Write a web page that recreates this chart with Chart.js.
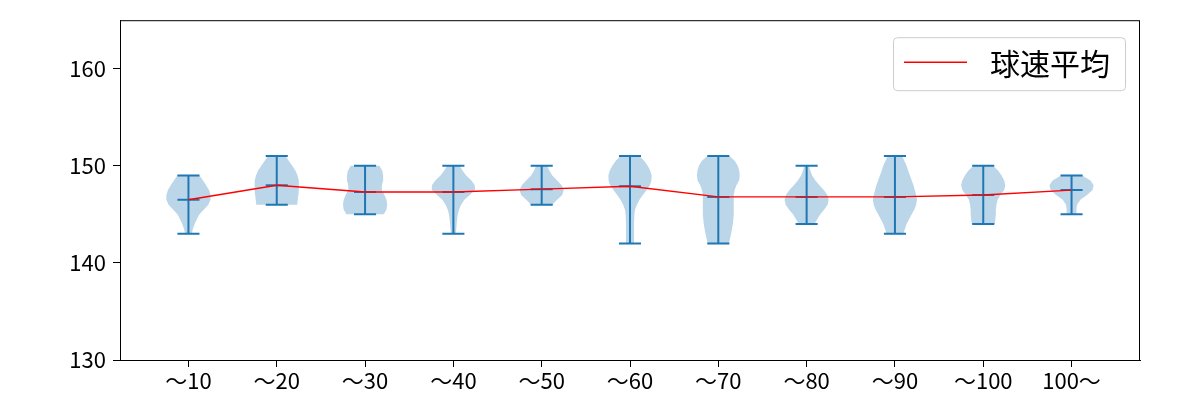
<!DOCTYPE html>
<html>
<head>
<meta charset="utf-8">
<script src="https://cdn.jsdelivr.net/npm/chart.js@4.4.1/dist/chart.umd.min.js"></script>
<style>
html,body{margin:0;padding:0;background:#fff;}
#wrap{width:1200px;height:400px;position:relative;}
</style>
</head>
<body>
<div id="wrap"><canvas id="c" width="1200" height="400"></canvas></div>
<script>
// ---- data ----
const categories = ['～10','～20','～30','～40','～50','～60','～70','～80','～90','～100','100～'];
const meanSpeed = [146.5, 148.0, 147.3, 147.3, 147.6, 147.9, 146.8, 146.8, 146.8, 147.0, 147.5];
const maxSpeed  = [149, 151, 150, 150, 150, 151, 151, 150, 151, 150, 149];
const minSpeed  = [143, 146, 145, 143, 146, 142, 142, 144, 143, 144, 145];
const yTicks = [130, 140, 150, 160];
const legendLabel = '球速平均';

// violin outlines: [speed, relative half-width]
const violin1  = [[149,0.5],[148.5,0.66],[148,0.8],[147.5,0.93],[147,1.0],[146.5,1.0],[146,0.9],[145.5,0.7],[145,0.5],[144.5,0.38],[144,0.28],[143.5,0.2],[143,0.15]];
const violin2  = [[151,0.4],[150.5,0.55],[150,0.7],[149.5,0.85],[149,0.94],[148.5,1.0],[148,1.0],[147.5,1.0],[147,0.98],[146.5,0.95],[146,0.93]];
const violin3  = [[150,0.65],[149.5,0.78],[149,0.82],[148.5,0.82],[148,0.76],[147.5,0.76],[147,0.88],[146.5,0.97],[146,1.0],[145.5,0.97],[145,0.85]];
const violin4  = [[150,0.28],[149.5,0.42],[149,0.58],[148.5,0.82],[148,0.97],[147.5,0.98],[147,0.74],[146.5,0.5],[146,0.35],[145.5,0.26],[145,0.2],[144.5,0.17],[144,0.15],[143.5,0.13],[143,0.12]];
const violin5  = [[150,0.25],[149.5,0.35],[149,0.48],[148.5,0.7],[148,0.9],[147.5,1.0],[147,0.93],[146.5,0.7],[146,0.48]];
const violin6  = [[151,0.43],[150.5,0.65],[150,0.8],[149.5,0.92],[149,0.98],[148.5,0.97],[148,0.9],[147.5,0.75],[147,0.58],[146.5,0.43],[146,0.31],[145.5,0.23],[145,0.2],[144.5,0.19],[144,0.18],[143.5,0.18],[143,0.18],[142.5,0.18],[142,0.18]];
const violin7  = [[151,0.5],[150.5,0.75],[150,0.88],[149.5,0.95],[149,0.97],[148.5,0.94],[148,0.82],[147.5,0.74],[147,0.7],[146.5,0.7],[146,0.7],[145.5,0.7],[145,0.7],[144.5,0.68],[144,0.66],[143.5,0.62],[143,0.58],[142.5,0.53],[142,0.48]];
const violin8  = [[150,0.1],[149.5,0.17],[149,0.25],[148.5,0.4],[148,0.58],[147.5,0.78],[147,0.94],[146.5,1.0],[146,0.95],[145.5,0.8],[145,0.62],[144.5,0.48],[144,0.35]];
const violin9  = [[151,0.33],[150.5,0.43],[150,0.53],[149.5,0.6],[149,0.68],[148.5,0.76],[148,0.84],[147.5,0.9],[147,0.96],[146.5,1.0],[146,0.96],[145.5,0.88],[145,0.76],[144.5,0.64],[144,0.53],[143.5,0.45],[143,0.38]];
const violin10 = [[150,0.45],[149.5,0.68],[149,0.83],[148.5,0.95],[148,1.0],[147.5,0.95],[147,0.78],[146.5,0.65],[146,0.6],[145.5,0.57],[145,0.57],[144.5,0.55],[144,0.52]];
const violin11 = [[149,0.48],[148.5,0.86],[148,1.0],[147.5,0.95],[147,0.7],[146.5,0.4],[146,0.25],[145.5,0.22],[145,0.22]];
const violins = [violin1,violin2,violin3,violin4,violin5,violin6,violin7,violin8,violin9,violin10,violin11];

const VIOLIN_HALF = 0.25;   // half of violin width (x units)
const CAP_HALF = 0.125;     // half cap length
const BLUE = '#1f77b4';

const violinPlugin = {
  id: 'violins',
  beforeDatasetsDraw(chart) {
    const {ctx, scales:{x, y}} = chart;
    ctx.save();
    ctx.beginPath();
    ctx.rect(chart.chartArea.left, chart.chartArea.top, chart.chartArea.right-chart.chartArea.left, chart.chartArea.bottom-chart.chartArea.top);
    ctx.clip();
    violins.forEach((prof, i) => {
      const pos = i + 1;
      ctx.beginPath();
      prof.forEach(([v, w], k) => {
        const px = x.getPixelForValue(pos + w*VIOLIN_HALF), py = y.getPixelForValue(v);
        if (k === 0) ctx.moveTo(px, py); else ctx.lineTo(px, py);
      });
      for (let k = prof.length - 1; k >= 0; k--) {
        const [v, w] = prof[k];
        ctx.lineTo(x.getPixelForValue(pos - w*VIOLIN_HALF), y.getPixelForValue(v));
      }
      ctx.closePath();
      ctx.fillStyle = 'rgba(31,119,180,0.3)';
      ctx.fill();
    });
    ctx.strokeStyle = BLUE;
    ctx.lineWidth = 2;
    categories.forEach((c, i) => {
      const pos = i + 1;
      const xc = x.getPixelForValue(pos);
      const xl = x.getPixelForValue(pos - CAP_HALF), xr = x.getPixelForValue(pos + CAP_HALF);
      const yt = y.getPixelForValue(maxSpeed[i]), yb = y.getPixelForValue(minSpeed[i]), ym = y.getPixelForValue(meanSpeed[i]);
      ctx.beginPath();
      ctx.moveTo(xc, yt); ctx.lineTo(xc, yb);
      ctx.moveTo(xl, yt); ctx.lineTo(xr, yt);
      ctx.moveTo(xl, yb); ctx.lineTo(xr, yb);
      ctx.moveTo(xl, ym); ctx.lineTo(xr, ym);
      ctx.stroke();
    });
    ctx.restore();
  },
  afterDraw(chart) {
    const {ctx, chartArea:a} = chart;
    ctx.save();
    ctx.strokeStyle = '#000';
    ctx.lineWidth = 1;
    ctx.strokeRect(a.left + 0.5, a.top + 0.5, a.right - a.left - 1, a.bottom - a.top);
    const w = 232, h = 53;
    const lx = a.right - 15 - w, ly = a.top + 17;
    ctx.beginPath();
    if (ctx.roundRect) ctx.roundRect(lx + 0.5, ly + 0.5, w, h, 4); else ctx.rect(lx + 0.5, ly + 0.5, w, h);
    ctx.fillStyle = 'rgba(255,255,255,0.8)';
    ctx.fill();
    ctx.strokeStyle = '#cccccc';
    ctx.stroke();
    ctx.beginPath();
    ctx.strokeStyle = 'red';
    ctx.lineWidth = 1.4;
    ctx.moveTo(lx + 11, ly + h/2 - 1.5);
    ctx.lineTo(lx + 74, ly + h/2 - 1.5);
    ctx.stroke();
    ctx.fillStyle = '#000';
    ctx.font = '30px "Noto Sans CJK JP"';
    ctx.textBaseline = 'middle';
    ctx.textAlign = 'left';
    ctx.fillText(legendLabel, lx + 97, ly + h/2);
    ctx.restore();
  }
};

const tickFont = {family: '"Noto Sans CJK JP", "Noto Sans", sans-serif', size: 22};

new Chart(document.getElementById('c'), {
  type: 'scatter',
  data: {
    datasets: [{
      label: legendLabel,
      data: meanSpeed.map((m, i) => ({x: i + 1, y: m})),
      showLine: true,
      borderColor: 'red',
      backgroundColor: 'red',
      borderWidth: 1.4,
      pointRadius: 0,
      tension: 0
    }]
  },
  options: {
    responsive: false,
    animation: false,
    devicePixelRatio: 1,
    layout: {padding: {top: 19, right: 60, left: 0, bottom: 0}},
    plugins: {legend: {display: false}, tooltip: {enabled: false}},
    scales: {
      x: {
        type: 'linear',
        min: 0.225, max: 11.775,
        afterBuildTicks: s => { s.ticks = categories.map((c, i) => ({value: i + 1})); },
        afterFit: s => { s.height = 40; },
        ticks: {
          autoSkip: false, maxRotation: 0, color: '#000', font: tickFont, padding: 0,
          callback: v => categories[Math.round(v) - 1]
        },
        grid: {display: true, drawOnChartArea: false, drawTicks: true, tickLength: 7, tickColor: '#000', color: '#000'},
        border: {display: true, color: '#000', width: 1}
      },
      y: {
        type: 'linear',
        min: 130, max: 165,
        afterBuildTicks: s => { s.ticks = yTicks.map(v => ({value: v})); },
        afterFit: s => { s.width = 120; },
        ticks: {color: '#000', font: tickFont, padding: 7, callback: v => String(v)},
        grid: {display: true, drawOnChartArea: false, drawTicks: true, tickLength: 7, tickColor: '#000', color: '#000'},
        border: {display: true, color: '#000', width: 1}
      }
    }
  },
  plugins: [violinPlugin]
});
</script>
</body>
</html>
